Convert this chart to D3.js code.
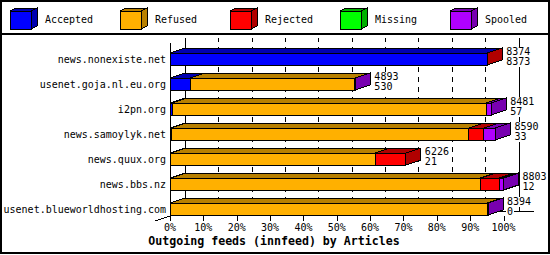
<!DOCTYPE html>
<html lang="en">
<head>
<meta charset="UTF-8">
<title>Outgoing feeds</title>
<script src="https://cdnjs.cloudflare.com/ajax/libs/d3/7.8.5/d3.min.js"></script>
<style>
body { margin: 0; background: #fff; }
svg { display: block; }
text { font-family: "DejaVu Sans Mono", monospace; fill: #000; }
.title { font-weight: bold; font-size: 11.6px; }
</style>
</head>
<body>
<div id="chart"></div>
<script>
// series / categories
var seriesNames = ['Accepted', 'Refused', 'Rejected', 'Missing', 'Spooled'];
var seriesColors = ['#0000ff', '#ffb000', '#ff0000', '#00ff00', '#b000ff'];
var seriesDark = ['#0000b0', '#b88000', '#b00000', '#00b000', '#7800b0'];

var categories = [
  'news.nonexiste.net',
  'usenet.goja.nl.eu.org',
  'i2pn.org',
  'news.samoylyk.net',
  'news.quux.org',
  'news.bbs.nz',
  'usenet.blueworldhosting.com'
];
var accepted = [8373, 530, 57, 33, 21, 12, 0];
var refused  = [0, 4353, 8294, 7851, 5399, 8183, 8379];
var rejected = [1, 0, 0, 397, 806, 502, 0];
var missing  = [0, 0, 0, 0, 0, 0, 0];
var spooled  = [0, 10, 130, 309, 0, 106, 15];

var tickValues = [0, 10, 20, 30, 40, 50, 60, 70, 80, 90, 100];
var tickLabels = ['0%', '10%', '20%', '30%', '40%', '50%', '60%', '70%', '80%', '90%', '100%'];
var title = 'Outgoing feeds (innfeed) by Articles';

var W = 550, H = 255;
var DX = 15, DY = 5;       // 3d depth
var BAR_H = 12;

var rows = categories.map(function (c, i) {
  return {name: c, Accepted: accepted[i], Refused: refused[i], Rejected: rejected[i],
          Missing: missing[i], Spooled: spooled[i]};
});
rows.forEach(function (r) {
  r.total = d3.sum(seriesNames, function (k) { return r[k]; });
});
var maxTotal = d3.max(rows, function (r) { return r.total; });

var stack = d3.stack().keys(seriesNames)(rows);

var x = d3.scaleLinear().domain([0, maxTotal]).range([170, 503.5]);
var pct = d3.scaleLinear().domain([0, 100]).range([170, 503.5]);
var y = d3.scaleBand().domain(categories).range([43, 218]);

var svg = d3.select('#chart').append('svg')
  .attr('width', W).attr('height', H)
  .attr('shape-rendering', 'crispEdges');

// frame + legend separator
svg.append('rect').attr('x', 1).attr('y', 1).attr('width', 548).attr('height', 252)
  .attr('fill', '#fff').attr('stroke', '#000').attr('stroke-width', 2);
svg.append('line').attr('x1', 0).attr('x2', W).attr('y1', 34).attr('y2', 34)
  .attr('stroke', '#000').attr('stroke-width', 2);

function txt(g, s, tx, ty, anchor) {
  return g.append('text')
    .attr('transform', 'translate(' + tx + ',' + ty + ') scale(1,1.12)')
    .attr('font-size', '10px')
    .attr('text-anchor', anchor || 'start')
    .text(s);
}

// legend with little cubes
var legend = svg.append('g');
seriesNames.forEach(function (name, i) {
  var lx = 10 + i * 110, ly = 11;
  var g = legend.append('g');
  g.append('polygon')
    .attr('points', [[lx, ly], [lx + 6, ly - 3], [lx + 27, ly - 3], [lx + 21, ly]].join(' '))
    .attr('fill', seriesDark[i]).attr('stroke', '#000');
  g.append('polygon')
    .attr('points', [[lx + 21, ly], [lx + 27, ly - 3], [lx + 27, ly + 15], [lx + 21, ly + 18]].join(' '))
    .attr('fill', seriesDark[i]).attr('stroke', '#000');
  g.append('rect').attr('x', lx).attr('y', ly).attr('width', 21).attr('height', 18)
    .attr('fill', seriesColors[i]).attr('stroke', '#000');
  txt(g, name, lx + 35, 23);
});

// back wall grid
var wallTop = 38, wallBottom = 211;
var grid = svg.append('g');
grid.selectAll('line').data(tickValues).enter().append('line')
  .attr('x1', function (d) { return Math.round(pct(d) + DX) + 0.5; })
  .attr('x2', function (d) { return Math.round(pct(d) + DX) + 0.5; })
  .attr('y1', wallTop).attr('y2', wallBottom)
  .attr('stroke', '#000')
  .attr('stroke-dasharray', function (d) { return (d === 0 || d === 100) ? null : '5,5'; })
  .attr('stroke-dashoffset', 1);
grid.append('line')
  .attr('x1', pct(0) + DX).attr('x2', pct(100) + 2 * DX)
  .attr('y1', wallBottom + 0.5).attr('y2', wallBottom + 0.5)
  .attr('stroke', '#000');

// bars
var bars = svg.append('g');
rows.forEach(function (r, i) {
  var yt = y(r.name) + 10, yb = yt + BAR_H;
  var segs = stack.map(function (s, k) {
    return {k: k, x0: x(s[i][0]), x1: x(s[i][1]), v: s[i][1] - s[i][0]};
  }).filter(function (d) { return d.v > 0; });
  var g = bars.append('g');
  segs.forEach(function (d, j) {
    g.append('polygon')
      .attr('points', [[d.x0, yt], [d.x0 + DX, yt - DY], [d.x1 + DX, yt - DY], [d.x1, yt]].join(' '))
      .attr('fill', seriesDark[d.k]).attr('stroke', '#000');
    g.append('rect')
      .attr('x', d.x0).attr('y', yt).attr('width', d.x1 - d.x0).attr('height', BAR_H)
      .attr('fill', seriesColors[d.k]).attr('stroke', '#000');
    if (j === segs.length - 1) {
      g.append('polygon')
        .attr('points', [[d.x1, yt], [d.x1 + DX, yt - DY], [d.x1 + DX, yb - DY], [d.x1, yb]].join(' '))
        .attr('fill', seriesDark[d.k]).attr('stroke', '#000');
    }
  });

  // value labels (total / accepted) on white boxes
  var lx = x(r.total) + DX + 4;
  var s1 = String(r.total), s2 = String(r.Accepted);
  var lg = svg.append('g');
  lg.append('rect').attr('x', lx - 1).attr('y', yt - 6)
    .attr('width', s1.length * 6 + 2).attr('height', 10).attr('fill', '#fff');
  lg.append('rect').attr('x', lx - 1).attr('y', yt + 4)
    .attr('width', s2.length * 6 + 2).attr('height', 10).attr('fill', '#fff');
  txt(lg, s1, lx, yt + 2);
  txt(lg, s2, lx, yb);
});

// front axis
var axis = svg.append('g').attr('stroke', '#000');
axis.append('line').attr('x1', 170.5).attr('x2', 170.5).attr('y1', 43).attr('y2', 221);
axis.append('line').attr('x1', 155).attr('y1', 221).attr('x2', 170).attr('y2', 216);
axis.selectAll('line.tick').data(tickValues).enter().append('line')
  .attr('class', 'tick')
  .attr('x1', function (d) { return Math.round(pct(d)) + 0.5; })
  .attr('x2', function (d) { return Math.round(pct(d)) + 0.5; })
  .attr('y1', 216).attr('y2', 221);

tickValues.forEach(function (d, i) {
  txt(svg, tickLabels[i], pct(d), 231, 'middle');
});

// category labels
rows.forEach(function (r) {
  txt(svg, r.name, 166, y(r.name) + 20, 'end');
});

svg.append('text').attr('class', 'title')
  .attr('x', 274).attr('y', 245).attr('text-anchor', 'middle')
  .text(title);
</script>
</body>
</html>
